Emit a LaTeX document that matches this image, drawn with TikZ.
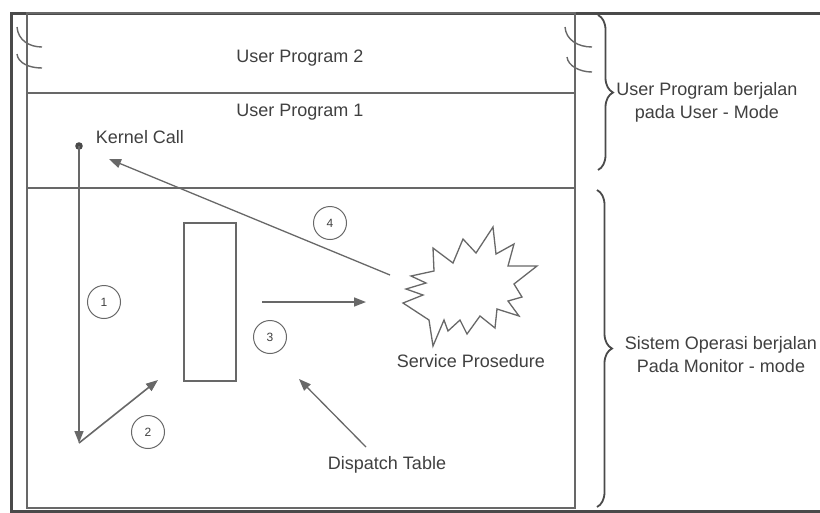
\documentclass[tikz,border=0pt]{standalone}
\usepackage{fontspec}
\setmainfont{Liberation Sans}
\usetikzlibrary{arrows.meta,decorations.pathreplacing}
\definecolor{linegray}{HTML}{686868}
\definecolor{framegray}{HTML}{4A4A4A}
\definecolor{textgray}{HTML}{404040}
\begin{document}
\begin{tikzpicture}[x=1pt,y=-1pt,
  line/.style={draw=linegray,line width=1.6pt},
  frame/.style={draw=framegray,line width=3pt},
  lbl/.style={text=textgray,font=\fontsize{18}{23}\selectfont,inner sep=0pt,align=center},
  num/.style={circle,draw=linegray,line width=1pt,minimum size=33pt,inner sep=0pt,
              text=textgray,font=\fontsize{12}{14}\selectfont},
  arr/.style={line,-{Triangle[length=12pt,width=9pt]}},
  brc/.style={draw=framegray,line width=1.8pt,decorate,decoration={brace,amplitude=15pt}},
  brk/.style={draw=linegray,line width=1.4pt}]
\useasboundingbox (0,0) rectangle (820,512);
\fill[white] (0,0) rectangle (820,512);

% outer frame
\draw[frame] (824,13) -- (11,13) -- (11,511) -- (824,511);
% memory column with its three regions
\draw[line] (27,13) rectangle (575,508);
\draw[line] (27,93) -- (575,93);
\draw[line] (27,188) -- (575,188);

% break marks on both sides of the column
\draw[brk] (17,27) .. controls (18,40) and (29,47) .. (42,47);
\draw[brk] (17,54) .. controls (18,63) and (29,68) .. (42,68);
\draw[brk] (565,27) .. controls (566,40) and (578,47) .. (592,47);
\draw[brk] (567,57) .. controls (568,66) and (580,72) .. (592,72);

% region labels
\node[lbl] (up2) at (300,58) {User Program 2};
\node[lbl] (up1) at (300,112) {User Program 1};
\node[lbl] (kc) at (140,137) {Kernel Call};

% braces and mode descriptions
\draw[brc] (598,15) -- (598,170);
\draw[brc] (597,190) -- (597,507);
\node[lbl] (umode) at (707,102) {User Program berjalan\\pada User - Mode};
\node[lbl] (mmode) at (721,355) {Sistem Operasi berjalan\\Pada Monitor - mode};

% dispatch table box
\node[draw=linegray,line width=1.6pt,minimum width=52pt,minimum height=158pt,inner sep=0pt]
  (table) at (210,302) {};

% service procedure burst
\draw[line,line width=1.3pt,fill=white]
  (433,248) -- (453,263) -- (463,239) -- (476,253) -- (493,227) -- (496,254) --
  (514,244) -- (508,266) -- (537,266) -- (514,284) -- (522,297) -- (508,301) --
  (519,316) -- (497,309) -- (495,328) -- (480,316) -- (467,334) -- (460,320) --
  (448,331) -- (444,320) -- (433,346) -- (429,320) -- (403,303) -- (423,295) --
  (406,289) -- (426,283) -- (411,276) -- (434,271) -- cycle;
\node[lbl] (sp) at (471,361) {Service Prosedure};
\node[lbl] (dt) at (387,465) {Dispatch Table};

% step numbers
\node[num] (n1) at (104,302) {1};
\node[num] (n2) at (148,432) {2};
\node[num] (n3) at (270,337) {3};
\node[num] (n4) at (330,223) {4};

% anchor points of the flow
\coordinate (callpt) at (79,146);
\coordinate (trap) at (79,443);
\coordinate (lookup) at (158,380);
\coordinate (jmpfrom) at (262,302);
\coordinate (jmpto) at (366,302);
\coordinate (burstl) at (390,275);
\coordinate (retpt) at (109,159);
\coordinate (dtfrom) at (366,447);
\coordinate (dtto) at (299,379);

\fill[framegray] (callpt) circle (3.8pt);
\draw[arr] (callpt) -- (trap);
\draw[arr] (trap) -- (lookup);
\draw[arr] (jmpfrom) -- (jmpto);
\draw[arr,line width=1.3pt] (burstl) -- (retpt);
\draw[arr,line width=1.3pt] (dtfrom) -- (dtto);
\end{tikzpicture}
\end{document}
